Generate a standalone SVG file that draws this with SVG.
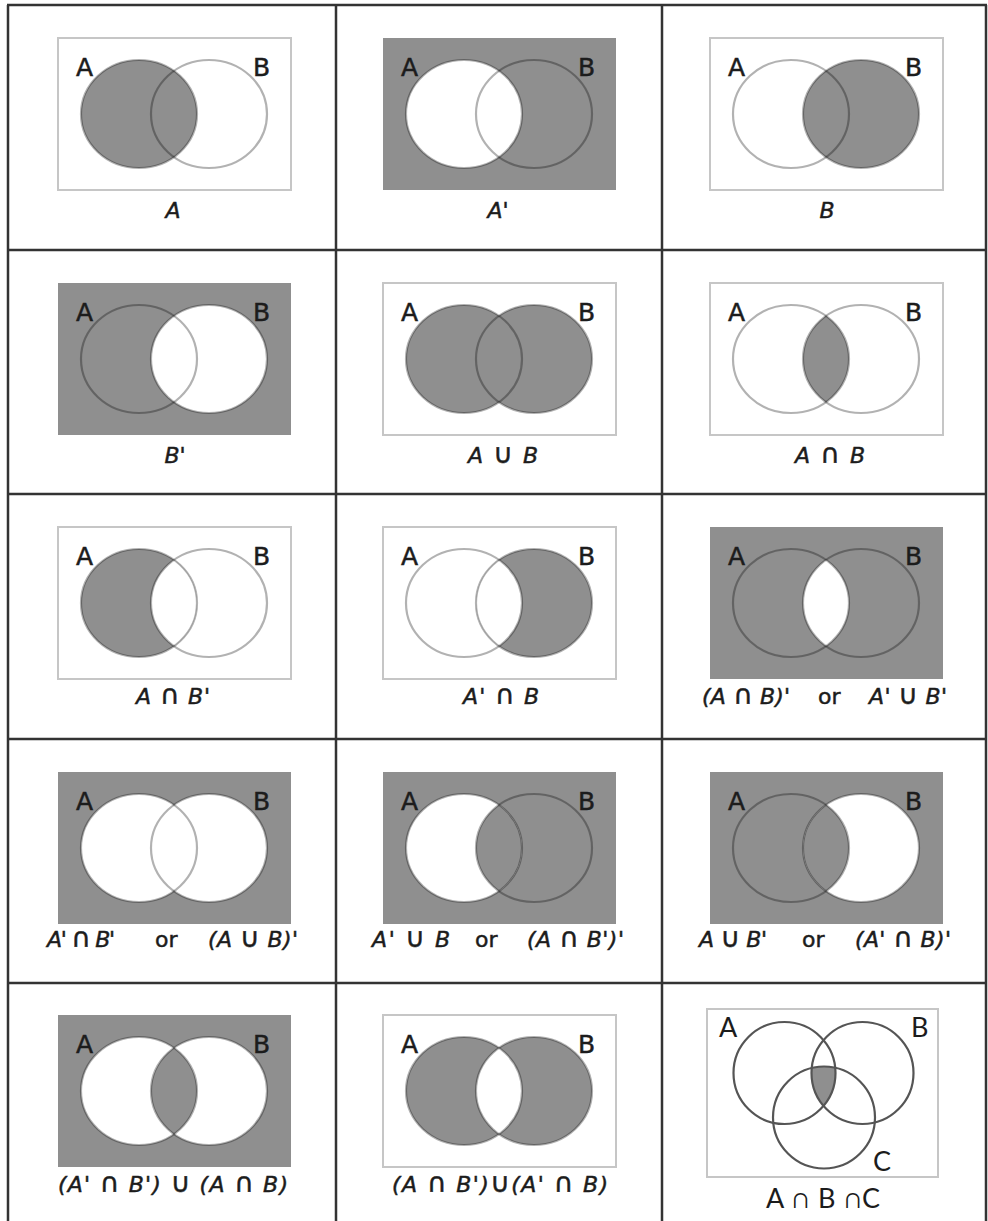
<svg xmlns="http://www.w3.org/2000/svg" width="988" height="1221" viewBox="0 0 988 1221">
<style>
.rw{fill:#fff;stroke:#c6c6c6;stroke-width:2}
.rg{fill:#8f8f8f}
.g{fill:#8f8f8f}
.w{fill:#fff}
.ol{fill:none;stroke:#000;stroke-opacity:.3;stroke-width:2.2}
.lab{font-family:"DejaVu Sans","Liberation Sans",sans-serif;font-size:25px;fill:#1c1c1c;stroke:#1c1c1c;stroke-width:.5}
.cap{font-family:"DejaVu Sans","Liberation Sans",sans-serif;font-size:22px;font-style:italic;fill:#1c1c1c;stroke:#1c1c1c;stroke-width:.5}
.up{font-style:normal}
.op{font-style:normal;font-size:27px}
.c3{fill:none;stroke:#555;stroke-width:2.2}
.lab3{font-family:Lato,"DejaVu Sans",sans-serif;font-size:27px;fill:#1c1c1c}
#table-grid line{stroke:#333;stroke-width:2.5}
</style>
<defs>
<ellipse id="ea" cx="81" cy="76" rx="58" ry="54"/>
<ellipse id="eb" cx="151" cy="76" rx="58" ry="54"/>
<clipPath id="ca"><use href="#ea"/></clipPath>
<clipPath id="cb"><use href="#eb"/></clipPath>
<clipPath id="c15a"><circle cx="77.5" cy="64" r="51"/></clipPath>
<clipPath id="c15c"><circle cx="117" cy="108.5" r="51"/></clipPath>
</defs>
<rect width="988" height="1221" fill="#fff"/>

<g id="table-grid">
<line x1="7" y1="5" x2="987" y2="5"/>
<line x1="8" y1="5" x2="8" y2="1221"/>
<line x1="336" y1="5" x2="336" y2="1221"/>
<line x1="662" y1="5" x2="662" y2="1221"/>
<line x1="986" y1="5" x2="986" y2="1221"/>
<line x1="8" y1="250" x2="986" y2="250"/>
<line x1="8" y1="494" x2="986" y2="494"/>
<line x1="8" y1="739" x2="986" y2="739"/>
<line x1="8" y1="983" x2="986" y2="983"/>
</g>

<g id="cell-A" transform="translate(58,38)">
<rect class="rw" width="233" height="152"/>
<use href="#ea" class="g"/>
<use href="#ea" class="ol"/><use href="#eb" class="ol"/>
<text class="lab" x="18" y="38">A</text><text class="lab" x="195" y="38">B</text>
<text class="cap" x="115" y="180" text-anchor="middle">A</text>
</g>

<g id="cell-Acomp" transform="translate(383,38)">
<rect class="rg" width="233" height="152"/>
<use href="#ea" class="w"/>
<use href="#ea" class="ol"/><use href="#eb" class="ol"/>
<text class="lab" x="18" y="38">A</text><text class="lab" x="195" y="38">B</text>
<text class="cap" x="115" y="180" text-anchor="middle">A'</text>
</g>

<g id="cell-B" transform="translate(710,38)">
<rect class="rw" width="233" height="152"/>
<use href="#eb" class="g"/>
<use href="#ea" class="ol"/><use href="#eb" class="ol"/>
<text class="lab" x="18" y="38">A</text><text class="lab" x="195" y="38">B</text>
<text class="cap" x="117" y="180" text-anchor="middle">B</text>
</g>

<g id="cell-Bcomp" transform="translate(58,283)">
<rect class="rg" width="233" height="152"/>
<use href="#eb" class="w"/>
<use href="#ea" class="ol"/><use href="#eb" class="ol"/>
<text class="lab" x="18" y="38">A</text><text class="lab" x="195" y="38">B</text>
<text class="cap" x="117" y="180" text-anchor="middle">B'</text>
</g>

<g id="cell-AuB" transform="translate(383,283)">
<rect class="rw" width="233" height="152"/>
<use href="#ea" class="g"/><use href="#eb" class="g"/>
<use href="#ea" class="ol"/><use href="#eb" class="ol"/>
<text class="lab" x="18" y="38">A</text><text class="lab" x="195" y="38">B</text>
<text class="cap" x="85" y="180" textLength="70" lengthAdjust="spacing">A <tspan class="op">∪</tspan> B</text>
</g>

<g id="cell-AnB" transform="translate(710,283)">
<rect class="rw" width="233" height="152"/>
<use href="#eb" class="g" clip-path="url(#ca)"/>
<use href="#ea" class="ol"/><use href="#eb" class="ol"/>
<text class="lab" x="18" y="38">A</text><text class="lab" x="195" y="38">B</text>
<text class="cap" x="85" y="180" textLength="70" lengthAdjust="spacing">A <tspan class="op">∩</tspan> B</text>
</g>

<g id="cell-AnBc" transform="translate(58,527)">
<rect class="rw" width="233" height="152"/>
<use href="#ea" class="g"/><use href="#eb" class="w" clip-path="url(#ca)"/>
<use href="#ea" class="ol"/><use href="#eb" class="ol"/>
<text class="lab" x="18" y="38">A</text><text class="lab" x="195" y="38">B</text>
<text class="cap" x="78" y="177" textLength="74" lengthAdjust="spacing">A <tspan class="op">∩</tspan> B'</text>
</g>

<g id="cell-AcnB" transform="translate(383,527)">
<rect class="rw" width="233" height="152"/>
<use href="#eb" class="g"/><use href="#ea" class="w" clip-path="url(#cb)"/>
<use href="#ea" class="ol"/><use href="#eb" class="ol"/>
<text class="lab" x="18" y="38">A</text><text class="lab" x="195" y="38">B</text>
<text class="cap" x="80" y="177" textLength="76" lengthAdjust="spacing">A' <tspan class="op">∩</tspan> B</text>
</g>

<g id="cell-AnB-comp" transform="translate(710,527)">
<rect class="rg" width="233" height="152"/>
<use href="#eb" class="w" clip-path="url(#ca)"/>
<use href="#ea" class="ol"/><use href="#eb" class="ol"/>
<text class="lab" x="18" y="38">A</text><text class="lab" x="195" y="38">B</text>
<text class="cap" x="-8" y="177" textLength="88" lengthAdjust="spacing">(A <tspan class="op">∩</tspan> B)'</text>
<text class="cap up" x="108" y="177">or</text>
<text class="cap" x="159" y="177" textLength="78" lengthAdjust="spacing">A' <tspan class="op">∪</tspan> B'</text>
</g>

<g id="cell-AcnBc" transform="translate(58,772)">
<rect class="rg" width="233" height="152"/>
<use href="#ea" class="w"/><use href="#eb" class="w"/>
<use href="#ea" class="ol"/><use href="#eb" class="ol"/>
<text class="lab" x="18" y="38">A</text><text class="lab" x="195" y="38">B</text>
<text class="cap" x="-11" y="175" textLength="68" lengthAdjust="spacing">A' <tspan class="op">∩</tspan> B'</text>
<text class="cap up" x="97" y="175">or</text>
<text class="cap" x="150" y="175" textLength="90" lengthAdjust="spacing">(A <tspan class="op">∪</tspan> B)'</text>
</g>

<g id="cell-AcuB" transform="translate(383,772)">
<rect class="rg" width="233" height="152"/>
<use href="#ea" class="w"/><use href="#eb" class="g" clip-path="url(#ca)"/>
<use href="#ea" class="ol"/><use href="#eb" class="ol"/>
<text class="lab" x="18" y="38">A</text><text class="lab" x="195" y="38">B</text>
<text class="cap" x="-11" y="175" textLength="78" lengthAdjust="spacing">A' <tspan class="op">∪</tspan> B</text>
<text class="cap up" x="92" y="175">or</text>
<text class="cap" x="144" y="175" textLength="97" lengthAdjust="spacing">(A <tspan class="op">∩</tspan> B')'</text>
</g>

<g id="cell-AuBc" transform="translate(710,772)">
<rect class="rg" width="233" height="152"/>
<use href="#eb" class="w"/><use href="#ea" class="g" clip-path="url(#cb)"/>
<use href="#ea" class="ol"/><use href="#eb" class="ol"/>
<text class="lab" x="18" y="38">A</text><text class="lab" x="195" y="38">B</text>
<text class="cap" x="-11" y="175" textLength="68" lengthAdjust="spacing">A <tspan class="op">∪</tspan> B'</text>
<text class="cap up" x="92" y="175">or</text>
<text class="cap" x="145" y="175" textLength="96" lengthAdjust="spacing">(A' <tspan class="op">∩</tspan> B)'</text>
</g>

<g id="cell-sym-comp" transform="translate(58,1015)">
<rect class="rg" width="233" height="152"/>
<use href="#ea" class="w"/><use href="#eb" class="w"/><use href="#eb" class="g" clip-path="url(#ca)"/>
<use href="#ea" class="ol"/><use href="#eb" class="ol"/>
<text class="lab" x="18" y="38">A</text><text class="lab" x="195" y="38">B</text>
<text class="cap" x="0" y="177" textLength="230" lengthAdjust="spacing">(A' <tspan class="op">∩</tspan> B') <tspan class="op">∪</tspan> (A <tspan class="op">∩</tspan> B)</text>
</g>

<g id="cell-sym-diff" transform="translate(383,1015)">
<rect class="rw" width="233" height="152"/>
<use href="#ea" class="g"/><use href="#eb" class="g"/><use href="#eb" class="w" clip-path="url(#ca)"/>
<use href="#ea" class="ol"/><use href="#eb" class="ol"/>
<text class="lab" x="18" y="38">A</text><text class="lab" x="195" y="38">B</text>
<text class="cap" x="9" y="177" textLength="216" lengthAdjust="spacing">(A <tspan class="op">∩</tspan> B')<tspan class="op">∪</tspan>(A' <tspan class="op">∩</tspan> B)</text>
</g>

<g id="cell-AnBnC" transform="translate(707,1009)">
<rect class="rw" width="231" height="168"/>
<g clip-path="url(#c15a)"><circle cx="155.5" cy="64" r="51" class="g" clip-path="url(#c15c)"/></g>
<circle class="c3" cx="77.5" cy="64" r="51"/>
<circle class="c3" cx="155.5" cy="64" r="51"/>
<circle class="c3" cx="117" cy="108.5" r="51"/>
<text class="lab3" x="12" y="28">A</text>
<text class="lab3" x="204" y="28">B</text>
<text class="lab3" x="166" y="162">C</text>
<text class="lab3" x="59" y="199" textLength="114" lengthAdjust="spacing">A ∩ B ∩C</text>
</g>
</svg>
